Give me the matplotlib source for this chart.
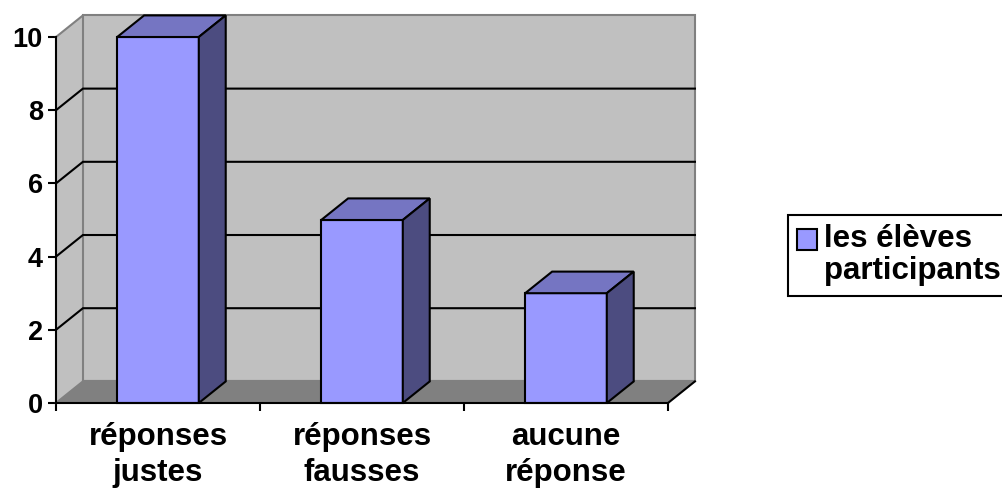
import matplotlib
matplotlib.use("Agg")
import matplotlib.pyplot as plt
from matplotlib.patches import Polygon, Patch

plt.rcParams["font.family"] = ["Liberation Sans", "DejaVu Sans"]
plt.rcParams["font.weight"] = "bold"

# Data
categories = ["réponses\njustes", "réponses\nfausses", "aucune\nréponse"]
values = [10, 5, 3]
series_name = "les élèves\nparticipants"
y_ticks = [0, 2, 4, 6, 8, 10]

# Styling
FRONT = "#9999FF"
TOP = "#7575C2"
SIDE = "#4C4C80"
WALL = "#C0C0C0"
FLOOR = "#808080"
EDGE_GREY = "#808080"
LW = 1.5
FS_TICK = 19.5
FS_LABEL = 22.5

# 3D depth expressed in data units (categories, value)
DX = 0.132
DY = 0.59
BAR_W = 0.40
YMAX = 10

W, H = 1003, 492
DPI = 100
fig = plt.figure(figsize=(W / DPI, H / DPI), dpi=DPI)
ax = fig.add_axes([56 / W, 1 - 403 / H, 612 / W, 366 / H])
ax.set_xlim(0, len(categories))
ax.set_ylim(0, YMAX)
ax.patch.set_visible(False)

n = len(categories)

# Walls and floor
left_wall = Polygon([(0, 0), (DX, DY), (DX, YMAX + DY), (0, YMAX)],
                    closed=True, facecolor=WALL, edgecolor="none", zorder=1, clip_on=False)
back_wall = Polygon([(DX, DY), (n + DX, DY), (n + DX, YMAX + DY), (DX, YMAX + DY)],
                    closed=True, facecolor=WALL, edgecolor=EDGE_GREY, lw=LW, zorder=1, clip_on=False)
floor = Polygon([(0, 0), (n, 0), (n + DX, DY), (DX, DY)],
                closed=True, facecolor=FLOOR, edgecolor="none", zorder=1.5, clip_on=False)
for p in (left_wall, back_wall, floor):
    ax.add_patch(p)

# Wall edges
ax.plot([0, DX], [YMAX, YMAX + DY], color=EDGE_GREY, lw=LW, zorder=2, clip_on=False)
ax.plot([0, DX], [0, DY], color=EDGE_GREY, lw=LW, zorder=2, clip_on=False)
ax.plot([DX, n + DX], [DY, DY], color=EDGE_GREY, lw=LW, zorder=2, clip_on=False)
ax.plot([n, n + DX], [0, DY], color="black", lw=LW, zorder=2, clip_on=False)

# Gridlines across left and back walls
for v in y_ticks[1:-1]:
    ax.plot([0, DX, n + DX], [v, v + DY, v + DY], color="black", lw=LW,
            zorder=2, clip_on=False, solid_joinstyle="miter")

# Bars
for i, v in enumerate(values):
    x0 = i + 0.5 - BAR_W / 2
    x1 = i + 0.5 + BAR_W / 2
    front = Polygon([(x0, 0), (x1, 0), (x1, v), (x0, v)], closed=True,
                    facecolor=FRONT, edgecolor="black", lw=LW, zorder=5, clip_on=False,
                    joinstyle="miter")
    top = Polygon([(x0, v), (x1, v), (x1 + DX, v + DY), (x0 + DX, v + DY)], closed=True,
                  facecolor=TOP, edgecolor="black", lw=LW, zorder=5, clip_on=False,
                  joinstyle="miter")
    side = Polygon([(x1, 0), (x1 + DX, DY), (x1 + DX, v + DY), (x1, v)], closed=True,
                   facecolor=SIDE, edgecolor="black", lw=LW, zorder=5, clip_on=False,
                   joinstyle="miter")
    for p in (front, top, side):
        ax.add_patch(p)

# Axes, ticks and labels
for s in ("top", "right"):
    ax.spines[s].set_visible(False)
for s in ("left", "bottom"):
    ax.spines[s].set_color("black")
    ax.spines[s].set_linewidth(LW)
    ax.spines[s].set_zorder(6)

ax.set_yticks(y_ticks)
ax.set_yticklabels([str(t) for t in y_ticks])
ax.tick_params(axis="y", direction="out", length=6, width=LW, pad=3.5,
               labelsize=FS_TICK, colors="black")

ax.set_xticks(range(n + 1))
ax.set_xticklabels([])
ax.set_xticks([i + 0.5 for i in range(n)], minor=True)
ax.set_xticklabels(categories, minor=True, fontsize=FS_LABEL, fontweight="bold",
                   linespacing=1.25)
ax.tick_params(axis="x", which="major", direction="out", length=6, width=LW)
ax.tick_params(axis="x", which="minor", length=0, pad=14)
for lbl in ax.get_yticklabels() + ax.get_xticklabels(minor=True):
    lbl.set_fontweight("bold")

# Legend
leg = fig.legend(handles=[Patch(facecolor=FRONT, edgecolor="black", lw=LW)],
                 labels=[series_name], loc="upper left",
                 bbox_to_anchor=(788 / W, 1 - 215 / H), borderaxespad=0,
                 frameon=True, fancybox=False, edgecolor="black", framealpha=1,
                 prop={"size": FS_LABEL, "weight": "bold"},
                 handlelength=0.64, handleheight=0.64, handletextpad=0.22,
                 borderpad=0.3)
leg.get_frame().set_linewidth(LW)
leg.get_texts()[0].set_linespacing(1.08)

# Align the legend key with the first line of its label
fig.canvas.draw()
handle = leg.legend_handles[0]
hb = handle.get_window_extent()
target_top = H - 229
shift_pts = (target_top - hb.y1) * 72.0 / DPI
handle.set_y(handle.get_y() + shift_pts)

fig.savefig("out.png", dpi=DPI)
